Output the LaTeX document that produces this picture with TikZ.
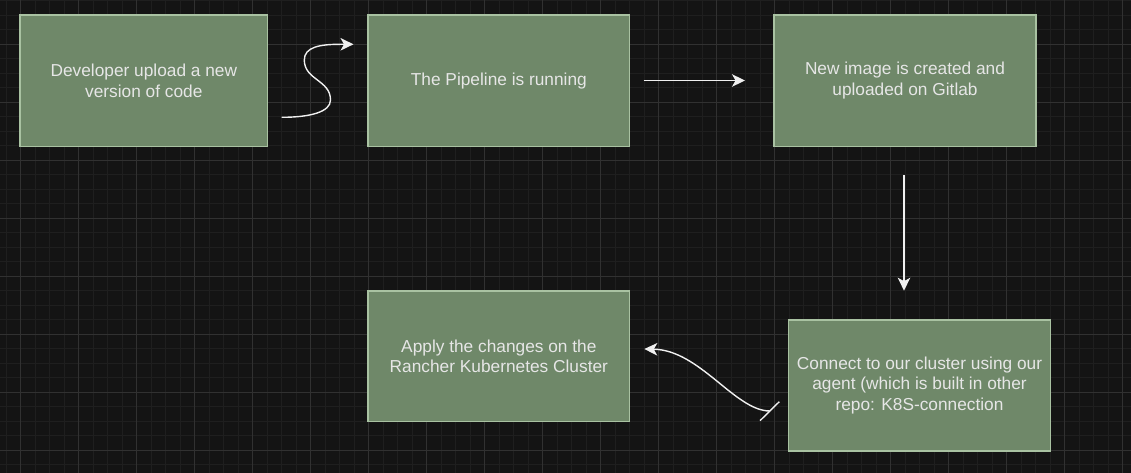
\documentclass[tikz,border=0pt]{standalone}
\usepackage{fontspec}
\setmainfont{Liberation Sans}
\usetikzlibrary{arrows.meta}
\definecolor{bg}{HTML}{141414}
\definecolor{gminor}{HTML}{1F1F1F}
\definecolor{gmajor}{HTML}{313131}
\definecolor{boxfill}{HTML}{6F8869}
\definecolor{boxline}{HTML}{A9C2A2}
\definecolor{txt}{HTML}{E6E6E6}
\definecolor{wirec}{HTML}{F0F0F0}
\begin{document}
\begin{tikzpicture}[x=1pt,y=-1pt,
  box/.style={draw=boxline, fill=boxfill, line width=1.4pt, text=txt, align=center,
    font=\fontsize{17.3}{20.5}\selectfont, inner sep=0pt},
  wire/.style={draw=wirec, line width=1.4pt},
  arr/.style={wire, -{Stealth[length=13pt,width=12.5pt,inset=3.5pt]}},
  minorg/.style={draw=gminor, line width=0.8pt},
  majorg/.style={draw=gmajor, line width=1pt}]
\useasboundingbox (0,0) rectangle (1131,473);
\clip (0,0) rectangle (1131,473);
\fill[bg] (0,0) rectangle (1131,473);
% grid
\foreach \i in {0,...,77} \draw[minorg] ({6+14.5*\i},0) -- ({6+14.5*\i},473);
\foreach \i in {0,...,32} \draw[minorg] (0,{0.8+14.5*\i}) -- (1131,{0.8+14.5*\i});
\foreach \i in {0,...,19} \draw[majorg] ({20.5+58*\i},0) -- ({20.5+58*\i},473);
\foreach \i in {0,...,7} \draw[majorg] (0,{44.3+58*\i}) -- (1131,{44.3+58*\i});
% boxes
\node[box, minimum width=247.7pt, minimum height=131.3pt] (dev) at (143.85,80.65)
  {Developer upload a new\\version of code};
\node[box, minimum width=261.7pt, minimum height=131.3pt] (pipe) at (498.85,80.65)
  {The Pipeline is running};
\node[box, minimum width=262pt, minimum height=131.3pt] (img) at (905,80.65)
  {New image is created and\\uploaded on Gitlab};
\node[box, minimum width=262pt, minimum height=131pt] (conn) at (919.5,385.5)
  {Connect to our cluster using our\\agent (which is built in other\\repo: K8S-connection};
\node[box, minimum width=261.7pt, minimum height=130.7pt] (apply) at (498.85,356.35)
  {Apply the changes on the\\Rancher Kubernetes Cluster};
% connector end points
\coordinate (a1s) at (281.7,117.3);
\coordinate (a1t) at (353.5,44.3);
\coordinate (a2s) at (643.7,80.5);
\coordinate (a2t) at (745,80.5);
\coordinate (a3s) at (904,175.3);
\coordinate (a3t) at (904,290.7);
\coordinate (a4s) at (770,411);
\coordinate (a4t) at (644.3,349);
\coordinate (tickA) at (760,420.7);
\coordinate (tickB) at (779.3,401.7);
% connectors
\draw[arr] (a1s) .. controls (310,117.3) and (330.5,112) .. (330.5,100)
  .. controls (330.5,80) and (304.3,80) .. (304.3,60)
  .. controls (304.3,47) and (320,44.3) .. (340,44.3) -- (a1t);
\draw[arr] (a2s) -- (a2t);
\draw[arr] (a3s) -- (a3t);
\draw[arr] (a4s) .. controls (735,411) and (700,350) .. (a4t);
\draw[wire] (tickA) -- (tickB);
\end{tikzpicture}
\end{document}
